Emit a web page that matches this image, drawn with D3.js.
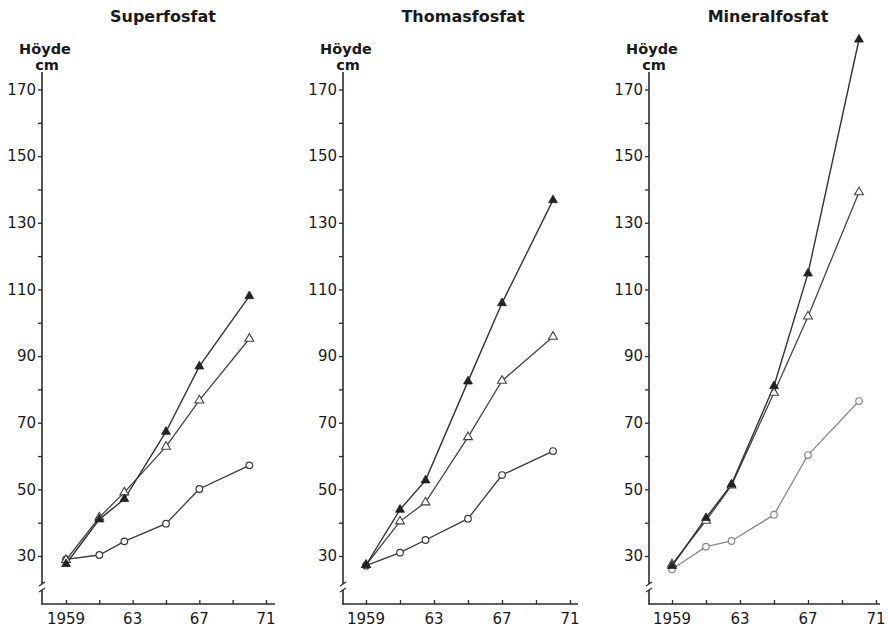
<!DOCTYPE html>
<html><head><meta charset="utf-8">
<script src="https://cdn.jsdelivr.net/npm/d3@7"></script>
<style>body{margin:0;background:#fff}svg{display:block}text{font-family:"DejaVu Sans",sans-serif;fill:#1a1a1a}</style>
</head><body>
<script>
const years = [1959, 1961, 1962.5, 1965, 1967, 1970];
const panelTitles = ["Superfosfat", "Thomasfosfat", "Mineralfosfat"];
const yTickLabels = [30, 50, 70, 90, 110, 130, 150, 170];
const yMinorTicks = [40, 60, 80, 100, 120, 140, 160];
const xTicks = [1959, 1961, 1963, 1965, 1967, 1969, 1971];
const xTickLabels = ["1959", "", "63", "", "67", "", "71"];

const superCircle = [29, 30.3, 34.4, 39.7, 50.1, 57.2];
const superOpen   = [28.8, 41.6, 49.1, 62.8, 76.7, 95.2];
const superFilled = [27.6, 41, 47.1, 67.3, 86.9, 108];
const thomasCircle = [27.1, 31, 34.8, 41.2, 54.3, 61.5];
const thomasOpen   = [27.3, 40.4, 46.1, 65.7, 82.6, 95.8];
const thomasFilled = [27.3, 43.9, 52.7, 82.4, 105.9, 136.8];
const mineralCircle = [26, 32.8, 34.5, 42.4, 60.3, 76.5];
const mineralOpen   = [27.5, 40.6, 51.2, 79, 101.9, 139.2];
const mineralFilled = [27, 41.4, 51.5, 81, 114.8, 185];

const panelSeries = [
  [superCircle, superOpen, superFilled],
  [thomasCircle, thomasOpen, thomasFilled],
  [mineralCircle, mineralOpen, mineralFilled]
];

const W = 888, H = 636;
const svg = d3.select("body").append("svg").attr("width", W).attr("height", H);

const layouts = [
  {axisX: 42, x0: 66, x1: 266, xEnd: 275, titleX: 163},
  {axisX: 343, x0: 366, x1: 570, xEnd: 578, titleX: 463},
  {axisX: 649, x0: 672, x1: 876, xEnd: 880, titleX: 768}
];
const ink = "#2b2b2b";

layouts.forEach((L, pi) => {
  const g = svg.append("g");
  const x = d3.scaleLinear().domain([1959, 1971]).range([L.x0, L.x1]);
  const y = d3.scaleLinear().domain([30, 170]).range([556, 89.5]);
  const yBottom = 604, yTop = 72;

  g.append("text").attr("x", L.titleX).attr("y", 22).attr("text-anchor", "middle")
    .attr("font-size", 16).attr("font-weight", "bold").text(panelTitles[pi]);
  g.append("text").attr("x", L.axisX + 3).attr("y", 54).attr("text-anchor", "middle")
    .attr("font-size", 14.5).attr("font-weight", "bold").text("Höyde");
  g.append("text").attr("x", L.axisX + 5).attr("y", 70).attr("text-anchor", "middle")
    .attr("font-size", 14.5).attr("font-weight", "bold").text("cm");

  // y axis with a break
  g.append("line").attr("x1", L.axisX).attr("x2", L.axisX).attr("y1", yTop).attr("y2", 584)
    .attr("stroke", ink).attr("stroke-width", 1.6);
  g.append("line").attr("x1", L.axisX).attr("x2", L.axisX).attr("y1", 590).attr("y2", yBottom)
    .attr("stroke", ink).attr("stroke-width", 1.6);
  [584, 590].forEach(yy => g.append("line").attr("x1", L.axisX - 3).attr("x2", L.axisX + 3)
    .attr("y1", yy + 2).attr("y2", yy - 2).attr("stroke", ink).attr("stroke-width", 1.2));

  const yAx = g.append("g").attr("transform", `translate(${L.axisX},0)`)
    .call(d3.axisLeft(y).tickValues(yTickLabels.concat(yMinorTicks)).tickSize(4)
      .tickFormat(d => yTickLabels.includes(d) ? d : ""));
  yAx.select(".domain").remove();
  yAx.selectAll(".tick line").attr("stroke", ink).attr("stroke-width", 1.3);
  yAx.selectAll(".tick text").attr("font-size", 15).attr("font-family", "DejaVu Sans")
    .attr("fill", "#1a1a1a").attr("x", -6);

  // x axis
  g.append("line").attr("x1", L.axisX - 1).attr("x2", L.xEnd).attr("y1", yBottom).attr("y2", yBottom)
    .attr("stroke", ink).attr("stroke-width", 1.6);
  const xAx = g.append("g").attr("transform", `translate(0,${yBottom})`)
    .call(d3.axisTop(x).tickValues(xTicks).tickSize(4).tickFormat(() => ""));
  xAx.select(".domain").remove();
  xAx.selectAll(".tick line").attr("stroke", ink).attr("stroke-width", 1.3);
  xTicks.forEach((t, i) => {
    if (xTickLabels[i]) g.append("text").attr("x", x(t)).attr("y", 624).attr("text-anchor", "middle")
      .attr("font-size", 15).text(xTickLabels[i]);
  });

  const line = d3.line().x((d, i) => x(years[i])).y(d => y(d));
  const [circ, open, filled] = panelSeries[pi];
  const circColor = pi === 2 ? "#8a8a8a" : "#3a3a3a";

  g.append("path").datum(circ).attr("d", line).attr("fill", "none").attr("stroke", circColor).attr("stroke-width", 1.3);
  g.append("path").datum(open).attr("d", line).attr("fill", "none").attr("stroke", "#444").attr("stroke-width", 1.3);
  g.append("path").datum(filled).attr("d", line).attr("fill", "none").attr("stroke", "#333").attr("stroke-width", 1.4);

  const tri = d3.symbol().type(d3.symbolTriangle).size(34);
  g.selectAll(".c").data(circ).join("circle").attr("cx", (d, i) => x(years[i])).attr("cy", d => y(d))
    .attr("r", 3.3).attr("fill", "#fff").attr("stroke", circColor).attr("stroke-width", 1.2);
  g.selectAll(".o").data(open).join("path").attr("d", tri)
    .attr("transform", (d, i) => `translate(${x(years[i])},${y(d)})`)
    .attr("fill", "#fff").attr("stroke", "#444").attr("stroke-width", 1.1);
  g.selectAll(".f").data(filled).join("path").attr("d", tri)
    .attr("transform", (d, i) => `translate(${x(years[i])},${y(d)})`)
    .attr("fill", "#222").attr("stroke", "#222").attr("stroke-width", 0.8);
});
</script>
</body></html>
